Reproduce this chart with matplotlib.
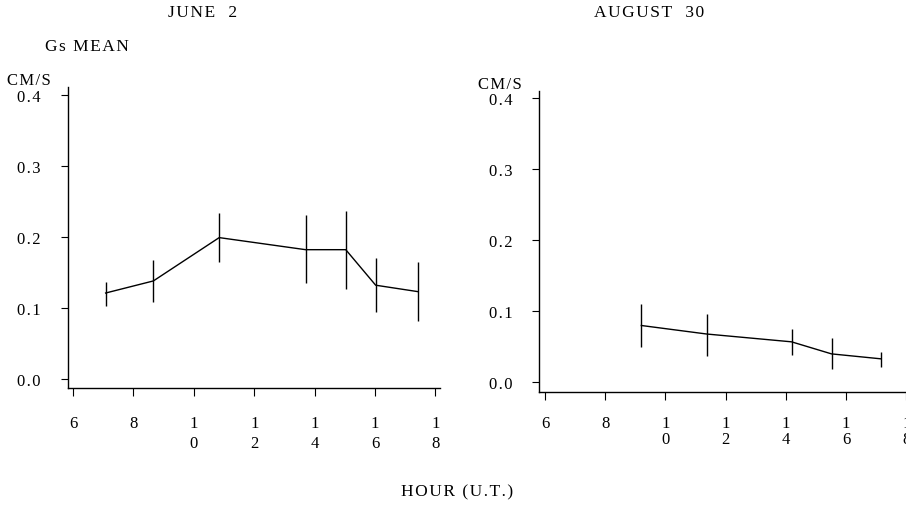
import numpy as np
import matplotlib.pyplot as plt

# ------------ values ------------
june_hours = [7.08, 8.66, 10.84, 13.70, 15.03, 16.02, 17.41]
june_gs = [0.121, 0.138, 0.199, 0.182, 0.182, 0.132, 0.123]
june_low = [0.103, 0.109, 0.165, 0.135, 0.127, 0.094, 0.082]
june_high = [0.137, 0.167, 0.233, 0.231, 0.237, 0.170, 0.164]

aug_hours = [9.20, 11.37, 14.19, 15.52, 17.17]
aug_gs = [0.080, 0.068, 0.057, 0.040, 0.033]
aug_low = [0.050, 0.037, 0.038, 0.019, 0.021]
aug_high = [0.110, 0.096, 0.075, 0.062, 0.042]

hour_ticks = [6, 8, 10, 12, 14, 16, 18]
hour_labels = ["6", "8", "1\n0", "1\n2", "1\n4", "1\n6", "1\n8"]
gs_ticks = [0.0, 0.1, 0.2, 0.3, 0.4]
gs_labels = ["0.0", "0.1", "0.2", "0.3", "0.4"]
# ---------------------------------------------------

plt.rcParams['font.family'] = ['Liberation Serif', 'DejaVu Serif']
plt.rcParams['font.size'] = 12

W, H = 906, 510
fig = plt.figure(figsize=(W / 100, H / 100), dpi=100)

HAIR = '\u200a'


def spaced(s):
    # old typeset look: letters set a bit apart
    return HAIR.join(s)


def px_axes(x0, x1, y_top, y_bot):
    # axes rectangle given in pixel coordinates of the reference
    return fig.add_axes([x0 / W, 1 - y_bot / H, (x1 - x0) / W, (y_bot - y_top) / H])


def style(ax, xlim, ylim, xpad, xspacing):
    ax.set_xlim(*xlim)
    ax.set_ylim(*ylim)
    for side in ['top', 'right']:
        ax.spines[side].set_visible(False)
    for side in ['left', 'bottom']:
        ax.spines[side].set_linewidth(1.0)
    ax.set_xticks(hour_ticks)
    ax.set_xticklabels(hour_labels, linespacing=xspacing)
    ax.set_yticks(gs_ticks)
    ax.set_yticklabels([spaced(s) for s in gs_labels])
    ax.tick_params(axis='y', direction='out', length=5, width=0.8, pad=14.5)
    ax.tick_params(axis='x', direction='out', length=6, width=0.8, pad=xpad)
    ax.patch.set_alpha(0)


def draw(ax, hours, gs, low, high):
    gs = np.array(gs)
    yerr = [gs - np.array(low), np.array(high) - gs]
    ax.errorbar(hours, gs, yerr=yerr, color='black', lw=1.0, elinewidth=1.0,
                capsize=0, fmt='-')


ax1 = px_axes(68, 440, 88, 389)
style(ax1, (5.834, 18.15), (-0.0127, 0.411), 13.5, 1.32)
draw(ax1, june_hours, june_gs, june_low, june_high)

ax2 = px_axes(539.3, 908, 92, 393.3)
style(ax2, (5.81, 18.06), (-0.0141, 0.4103), 10, 1.0)
draw(ax2, aug_hours, aug_gs, aug_low, aug_high)

fig.text(203 / W, 1 - 13 / H, spaced("JUNE  2"), ha='center', va='center', fontsize=12.5)
fig.text(649 / W, 1 - 13 / H, spaced("AUGUST  30"), ha='center', va='center', fontsize=12.5)
fig.text(45 / W, 1 - 47 / H, spaced("Gs MEAN"), ha='left', va='center', fontsize=12.5)
fig.text(7 / W, 1 - 81 / H, spaced("CM/S"), ha='left', va='center')
fig.text(478 / W, 1 - 85 / H, spaced("CM/S"), ha='left', va='center')
fig.text(457 / W, 1 - 492 / H, spaced("HOUR (U.T.)"), ha='center', va='center', fontsize=12.5)

fig.savefig("out.png", dpi=100)
